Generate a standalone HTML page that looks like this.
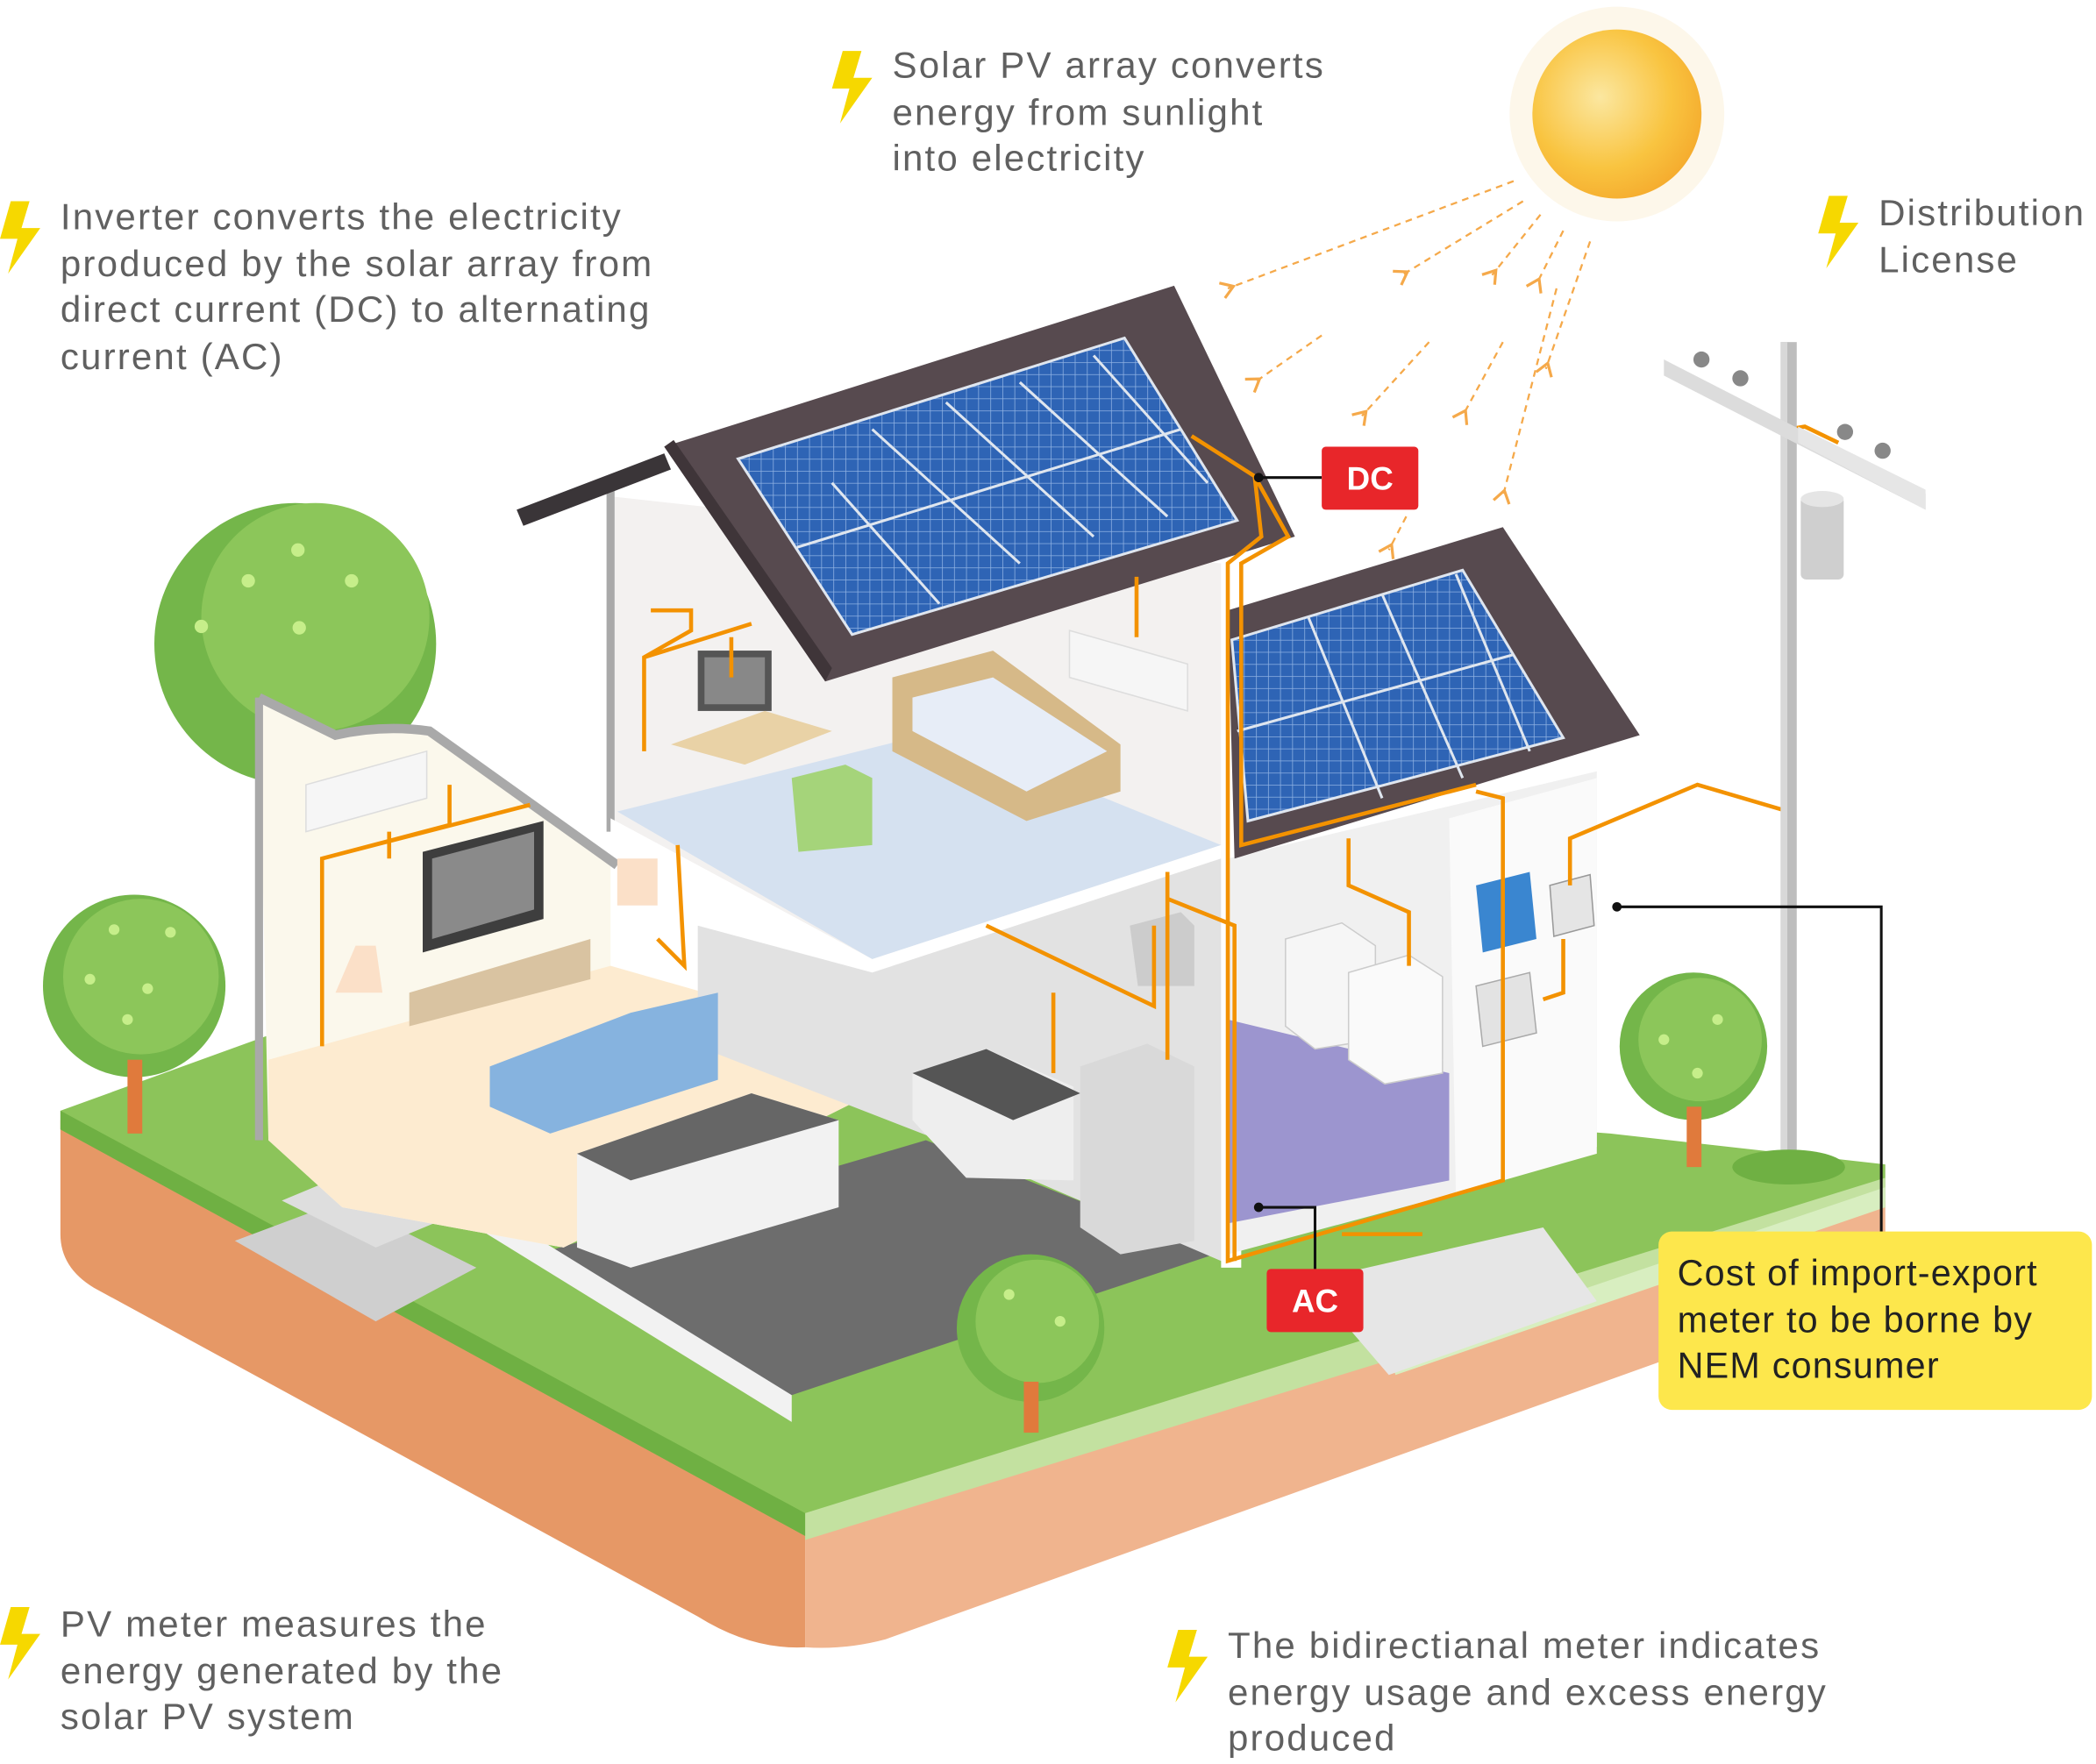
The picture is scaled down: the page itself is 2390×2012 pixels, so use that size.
<!DOCTYPE html>
<html><head><meta charset="utf-8"><style>
html,body{margin:0;padding:0;background:#fff;}
svg{display:block;}
.t{font-family:"Liberation Sans",sans-serif;font-size:27.5px;fill:#606060;letter-spacing:1.4px;}
.b{font-family:"Liberation Sans",sans-serif;font-size:27px;fill:#222;letter-spacing:0.8px;}
.lab{font-family:"Liberation Sans",sans-serif;font-size:24px;font-weight:bold;fill:#fff;}
</style></head><body>
<svg width="2390" height="2012" viewBox="0 0 1562 1315" xmlns="http://www.w3.org/2000/svg">
<defs>
<radialGradient id="sun" cx="0.4" cy="0.4" r="0.7"><stop offset="0" stop-color="#fbe7a0"/><stop offset="0.6" stop-color="#f9c440"/><stop offset="1" stop-color="#f4a62a"/></radialGradient>
<pattern id="pv" width="9" height="9" patternUnits="userSpaceOnUse"><rect width="9" height="9" fill="#2e64b5"/><path d="M0 0H9M0 0V9" stroke="#8fb2e3" stroke-width="1"/></pattern>
<marker id="ar" markerWidth="10" markerHeight="10" refX="5" refY="5" orient="auto"><path d="M8 1 L2 5 L8 9" fill="none" stroke="#f5a94a" stroke-width="1.4"/></marker>
</defs>

<circle cx="1205" cy="85" r="80" fill="#fdf7ea"/>
<circle cx="1205" cy="85" r="63" fill="url(#sun)"/>
<g stroke="#f5a94a" stroke-width="1.5" stroke-dasharray="5 4" fill="none" marker-end="url(#ar)">
<path d="M1128 135 L915 215"/><path d="M1135 150 L1045 205"/><path d="M1148 160 L1112 205"/><path d="M1165 172 L1145 212"/>
<path d="M1185 180 L1152 275"/><path d="M1160 215 L1120 370"/><path d="M1120 255 L1090 310"/><path d="M1065 255 L1015 310"/>
<path d="M985 250 L935 285"/><path d="M1048 385 L1035 410"/>
</g>

<path d="M45 835 L600 1140 L600 1228 Q560 1230 520 1205 L70 960 Q45 945 45 920 Z" fill="#e69866"/>
<path d="M600 1140 L1405 895 L1405 955 L660 1222 Q630 1230 600 1228 Z" fill="#f0b48e"/>
<path d="M45 828 L205 770 L1200 845 L1405 868 L1405 900 L600 1145 L45 842 Z" fill="#8cc45a"/>
<path d="M600 1128 L1405 878 L1405 900 L600 1148 Z" fill="#c3e1a0"/>
<path d="M45 828 L600 1128 L600 1145 L45 842 Z" fill="#6fb043"/>
<path d="M1035 1010 L1405 885 L1405 900 L1040 1025 Z" fill="#d8eec0"/>
<path d="M975 955 L1150 915 L1190 970 L1035 1025 Z" fill="#e6e6e6"/>
<path d="M175 925 L255 895 L355 945 L280 985 Z" fill="#cfcfcf"/>
<path d="M210 895 L270 870 L340 905 L280 930 Z" fill="#dedede"/>
<path d="M400 935 L690 850 L905 935 L590 1040 Z" fill="#6d6d6d"/>
<path d="M355 895 L590 1040 L590 1060 L355 915 Z" fill="#f2f2f2"/>

<circle cx="220" cy="480" r="105" fill="#74b64a"/>
<circle cx="235" cy="460" r="85" fill="#8cc65a"/>

<path d="M193 520 L250 548 Q285 540 320 545 L455 640 L455 720 L700 790 L420 930 L255 900 L200 850 Z" fill="#fbf8ec"/>
<path d="M200 790 L455 720 L700 790 L420 930 L255 900 L200 850 Z" fill="#fdebd0"/>
<path d="M193 520 L250 548 Q285 540 320 545 L460 645" fill="none" stroke="#a9a9a9" stroke-width="7"/>
<path d="M193 520 L193 850" stroke="#a9a9a9" stroke-width="6"/>
<path d="M455 370 L910 420 L910 940 L650 715 L455 610 Z" fill="#f3f1f0"/>
<path d="M455 360 L455 620" stroke="#a9a9a9" stroke-width="6"/>
<path d="M460 605 L700 545 L910 630 L650 715 Z" fill="#d5e1f0"/>
<path d="M455 610 L650 715 L910 630 L910 640 L650 725 L455 622 Z" fill="#fff"/>
<path d="M520 690 L650 725 L910 640 L910 940 L700 850 L520 780 Z" fill="#e2e2e2"/>
<path d="M910 420 L925 420 L925 945 L910 945 Z" fill="#fff"/>
<path d="M915 640 L1190 575 L1190 855 L1120 880 L915 935 Z" fill="#f0f0f0"/>
<path d="M1080 610 L1190 580 L1190 860 L1085 890 Z" fill="#fafafa"/>
<path d="M915 760 L1080 800 L1080 880 L915 912 Z" fill="#9c95cf"/>

<path d="M385 380 L495 338 L500 350 L390 392 Z" fill="#3a3538"/>
<path d="M495 333 L875 213 L965 400 L615 508 Z" fill="#574a4f"/>
<path d="M495 333 L615 508 L620 498 L502 328 Z" fill="#3f3539"/>
<path d="M550 342 L838 252 L922 388 L635 473 Z" fill="url(#pv)" stroke="#dfe6ef" stroke-width="2"/>
<path d="M594 408 L880 320 M620 360 L700 450 M650 320 L760 420 M705 300 L815 400 M760 285 L870 385 M815 265 L900 360" stroke="#dfe6ef" stroke-width="2"/>
<path d="M915 455 L1120 393 L1222 548 L920 640 Z" fill="#574a4f"/>
<path d="M918 477 L1090 425 L1165 550 L930 612 Z" fill="url(#pv)" stroke="#dfe6ef" stroke-width="2"/>
<path d="M922 545 L1128 488 M975 460 L1030 595 M1030 443 L1090 580 M1085 428 L1140 560" stroke="#dfe6ef" stroke-width="2"/>

<rect x="520" y="485" width="55" height="45" fill="#555"/><rect x="525" y="490" width="45" height="35" fill="#888"/>
<path d="M500 555 L570 530 L620 545 L555 570 Z" fill="#e9d2a6"/>
<path d="M665 505 L740 485 L835 555 L835 590 L765 612 L665 560 Z" fill="#d6b988"/>
<path d="M680 520 L740 505 L825 560 L765 590 L680 545 Z" fill="#e7edf7"/>
<path d="M590 580 L630 570 L650 580 L650 630 L595 635 Z" fill="#a5d47a"/>
<path d="M797 470 L885 495 L885 530 L797 505 Z" fill="#f6f6f6" stroke="#ddd"/>
<path d="M228 585 L318 560 L318 595 L228 620 Z" fill="#f6f6f6" stroke="#ddd"/>
<path d="M315 635 L405 612 L405 685 L315 710 Z" fill="#3e3e3e"/><path d="M322 640 L398 620 L398 678 L322 700 Z" fill="#8a8a8a"/>
<path d="M305 740 L440 700 L440 730 L305 765 Z" fill="#d9c3a1"/>
<path d="M365 795 L470 755 L535 740 L535 805 L410 845 L365 825 Z" fill="#86b3df"/>
<path d="M265 705 L280 705 L285 740 L250 740 Z" fill="#fbe0c8"/><path d="M460 640 L490 640 L490 675 L460 675 Z" fill="#fbe0c8"/>
<path d="M430 860 L560 815 L625 835 L625 900 L470 945 L430 930 Z" fill="#f2f2f2"/>
<path d="M430 860 L560 815 L625 835 L470 880 Z" fill="#666"/>
<path d="M680 800 L735 782 L800 810 L800 880 L720 878 L680 835 Z" fill="#eee"/>
<path d="M680 800 L735 782 L805 815 L755 835 Z" fill="#555"/>
<path d="M805 795 L855 778 L890 795 L890 925 L835 935 L805 915 Z" fill="#d9d9d9"/>
<path d="M842 690 L880 680 L890 690 L890 735 L848 735 Z" fill="#ccc"/>
<path d="M958 700 L1000 688 L1025 705 L1025 775 L980 782 L958 765 Z" fill="#f6f6f6" stroke="#ccc"/>
<path d="M1005 725 L1050 712 L1075 728 L1075 800 L1032 808 L1005 790 Z" fill="#fafafa" stroke="#ccc"/>
<path d="M1100 660 L1140 650 L1145 700 L1105 710 Z" fill="#3a86d0"/>
<path d="M1155 660 L1185 652 L1188 690 L1158 698 Z" fill="#e5e5e5" stroke="#999"/>
<path d="M1100 735 L1140 725 L1145 770 L1105 780 Z" fill="#e3e3e3" stroke="#aaa"/>

<g stroke="#f39200" stroke-width="3" fill="none">
<path d="M888 325 L935 355 L940 400 L915 420 L915 940 L1120 880 L1120 595 L1100 590"/>
<path d="M935 355 L960 400 L925 420 L925 630 L1100 585"/>
<path d="M480 560 L480 490 L515 470 L515 455 L485 455"/>
<path d="M480 490 L560 465 M545 475 L545 505"/>
<path d="M240 780 L240 640 L335 615 L335 585 M240 640 L395 600 M290 620 L290 640 M490 700 L510 720 L505 630"/>
<path d="M735 690 L860 750 L860 690 M785 740 L785 800 M870 650 L870 790 M870 670 L920 690 L920 940"/>
<path d="M1005 625 L1005 660 L1050 680 L1050 720 M1170 660 L1170 625 L1265 585 L1333 605 M1165 700 L1165 740 L1150 745"/>
<path d="M847 430 L847 475 M1000 920 L1060 920"/>
<path d="M1333 320 L1345 318 L1370 330"/>
</g>

<rect x="1327" y="255" width="12" height="615" fill="#bdbdbd"/><rect x="1327" y="255" width="5" height="615" fill="#d8d8d8"/>
<ellipse cx="1333" cy="870" rx="42" ry="13" fill="#6fb043"/>
<path d="M1240 268 L1435 368 L1435 380 L1240 280 Z" fill="#dcdcdc"/>
<path d="M1340 318 L1435 365 L1435 380 L1340 330 Z" fill="#e6e6e6"/>
<g fill="#888"><circle cx="1268" cy="268" r="6"/><circle cx="1297" cy="282" r="6"/><circle cx="1375" cy="322" r="6"/><circle cx="1403" cy="336" r="6"/></g>
<rect x="1342" y="370" width="32" height="62" rx="4" fill="#cfcfcf"/><ellipse cx="1358" cy="372" rx="16" ry="6" fill="#e5e5e5"/>

<circle cx="100" cy="735" r="68" fill="#74b64a"/><circle cx="105" cy="728" r="58" fill="#8cc65a"/>
<rect x="95" y="790" width="11" height="55" fill="#e07a3c"/>
<circle cx="768" cy="990" r="55" fill="#74b64a"/><circle cx="773" cy="985" r="46" fill="#8cc65a"/>
<rect x="763" y="1030" width="11" height="38" fill="#e07a3c"/>
<circle cx="1262" cy="780" r="55" fill="#74b64a"/><circle cx="1267" cy="775" r="46" fill="#8cc65a"/>
<rect x="1257" y="825" width="11" height="45" fill="#e07a3c"/>
<g fill="#c6ee8a"><circle cx="222" cy="410" r="5"/><circle cx="185" cy="433" r="5"/><circle cx="262" cy="433" r="5"/><circle cx="150" cy="467" r="5"/><circle cx="223" cy="468" r="5"/><circle cx="85" cy="693" r="4"/><circle cx="127" cy="695" r="4"/><circle cx="67" cy="730" r="4"/><circle cx="110" cy="737" r="4"/><circle cx="95" cy="760" r="4"/><circle cx="752" cy="965" r="4"/><circle cx="790" cy="985" r="4"/><circle cx="1240" cy="775" r="4"/><circle cx="1280" cy="760" r="4"/><circle cx="1265" cy="800" r="4"/></g>

<path d="M938 356 L985 356" stroke="#111" stroke-width="2"/><circle cx="938" cy="356" r="3.5" fill="#111"/>
<path d="M938 900 L980 900 L980 946" stroke="#111" stroke-width="2" fill="none"/><circle cx="938" cy="900" r="3.5" fill="#111"/>
<path d="M1205 676 L1402 676 L1402 918" stroke="#111" stroke-width="2" fill="none"/><circle cx="1205" cy="676" r="3.5" fill="#111"/>
<rect x="985" y="333" width="72" height="47" rx="3" fill="#e8262a"/><text x="1021" y="365" text-anchor="middle" class="lab">DC</text>
<rect x="944" y="946" width="72" height="47" rx="3" fill="#e8262a"/><text x="980" y="978" text-anchor="middle" class="lab">AC</text>

<rect x="1236" y="918" width="323" height="133" rx="10" fill="#fde74c"/>
<text class="b" x="1250" y="958">Cost of import-export</text>
<text class="b" x="1250" y="993">meter to be borne by</text>
<text class="b" x="1250" y="1027">NEM consumer</text>

<g fill="#f6d800">
<path d="M628 38 L642 38 L636 58 L650 58 L626 92 L633 66 L620 66 Z"/>
<path d="M8 150 L22 150 L16 170 L30 170 L6 204 L13 178 L0 178 Z"/>
<path d="M1363 146 L1377 146 L1371 166 L1385 166 L1361 200 L1368 174 L1355 174 Z"/>
<path d="M8 1198 L22 1198 L16 1218 L30 1218 L6 1252 L13 1226 L0 1226 Z"/>
<path d="M878 1215 L892 1215 L886 1235 L900 1235 L876 1269 L883 1243 L870 1243 Z"/>
</g>

<text class="t" x="665" y="58">Solar PV array converts</text>
<text class="t" x="665" y="93">energy from sunlight</text>
<text class="t" x="665" y="127">into electricity</text>
<text class="t" x="45" y="171">Inverter converts the electricity</text>
<text class="t" x="45" y="206">produced by the solar array from</text>
<text class="t" x="45" y="240">direct current (DC) to alternating</text>
<text class="t" x="45" y="275">current (AC)</text>
<text class="t" x="1400" y="168">Distribution</text>
<text class="t" x="1400" y="203">License</text>
<text class="t" x="45" y="1220">PV meter measures the</text>
<text class="t" x="45" y="1255">energy generated by the</text>
<text class="t" x="45" y="1289">solar PV system</text>
<text class="t" x="915" y="1236">The bidirectianal meter indicates</text>
<text class="t" x="915" y="1271">energy usage and excess energy</text>
<text class="t" x="915" y="1305">produced</text>
</svg>
</body></html>
